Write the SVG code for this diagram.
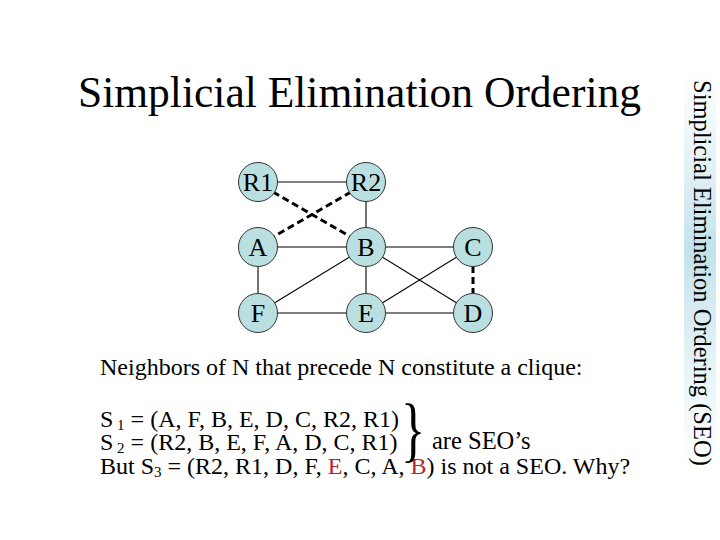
<svg xmlns="http://www.w3.org/2000/svg" width="720" height="540" viewBox="0 0 720 540">
<defs>
<linearGradient id="side" x1="0" y1="0" x2="0" y2="1">
<stop offset="0" stop-color="#d2eaf0" stop-opacity="0"/>
<stop offset="0.45" stop-color="#c2e2e9" stop-opacity="1"/>
<stop offset="1" stop-color="#d2eaf0" stop-opacity="0"/>
</linearGradient>
<style>
.t{font-family:"Liberation Serif","Times New Roman",serif;fill:#000}
.node circle{fill:#b9dfe0;stroke:#333;stroke-width:1}
.node text{font-family:"Liberation Serif","Times New Roman",serif;font-size:26px;text-anchor:middle;fill:#000}
.e{stroke:#000;stroke-width:1.1;fill:none}
.d{stroke:#000;stroke-width:3;stroke-dasharray:7 4;fill:none}
.red{fill:#b8252a}
</style>
</defs>
<rect x="684" y="70" width="32" height="400" fill="url(#side)"/>
<text class="t" x="78" y="107" font-size="43.5">Simplicial Elimination Ordering</text>
<text class="t" font-size="24.5" transform="translate(694,80) rotate(90)">Simplicial Elimination Ordering (SEO)</text>
<g id="connectors">
<line class="e" x1="258" y1="182" x2="366" y2="182"/>
<line class="e" x1="366" y1="182" x2="366" y2="247"/>
<line class="e" x1="258" y1="247" x2="473" y2="247"/>
<line class="e" x1="258" y1="247" x2="258" y2="313"/>
<line class="e" x1="366" y1="247" x2="258" y2="313"/>
<line class="e" x1="366" y1="247" x2="366" y2="313"/>
<line class="e" x1="366" y1="247" x2="473" y2="313"/>
<line class="e" x1="473" y1="247" x2="366" y2="313"/>
<line class="e" x1="258" y1="313" x2="473" y2="313"/>
<line class="d" x1="273" y1="192" x2="351" y2="237"/>
<line class="d" x1="351" y1="192" x2="273" y2="237"/>
<line class="d" x1="473" y1="266" x2="473" y2="294"/>
</g>
<g id="node-R1" class="node"><circle cx="258" cy="182" r="19.5"/><text x="258" y="191">R1</text></g>
<g id="node-R2" class="node"><circle cx="366" cy="182" r="19.5"/><text x="366" y="191">R2</text></g>
<g id="node-A" class="node"><circle cx="258" cy="247" r="19.5"/><text x="258" y="256">A</text></g>
<g id="node-B" class="node"><circle cx="366" cy="247" r="19.5"/><text x="366" y="256">B</text></g>
<g id="node-C" class="node"><circle cx="473" cy="247" r="19.5"/><text x="473" y="256">C</text></g>
<g id="node-F" class="node"><circle cx="258" cy="313" r="19.5"/><text x="258" y="322">F</text></g>
<g id="node-E" class="node"><circle cx="366" cy="313" r="19.5"/><text x="366" y="322">E</text></g>
<g id="node-D" class="node"><circle cx="473" cy="313" r="19.5"/><text x="473" y="322">D</text></g>
<text class="t" x="100" y="375" font-size="24">Neighbors of N that precede N constitute a clique:</text>
<text class="t" x="100" y="427" font-size="24">S<tspan font-size="15" dy="3"> 1</tspan><tspan dy="-3"> = (A, F, B, E, D, C, R2, R1)</tspan></text>
<text class="t" x="100" y="450" font-size="24">S<tspan font-size="15" dy="3"> 2</tspan><tspan dy="-3"> = (R2, B, E, F, A, D, C, R1)</tspan></text>
<text class="t" x="100" y="474" font-size="24">But S<tspan font-size="15" dy="3">3</tspan><tspan dy="-3"> = (R2, R1, D, F, </tspan><tspan class="red">E</tspan>, C, A, <tspan class="red">B</tspan>) is not a SEO. Why?</text>
<text class="t" font-size="72" transform="translate(401,453) scale(0.7,1)">}</text>
<text class="t" x="432" y="449" font-size="24.5">are SEO’s</text>
</svg>
